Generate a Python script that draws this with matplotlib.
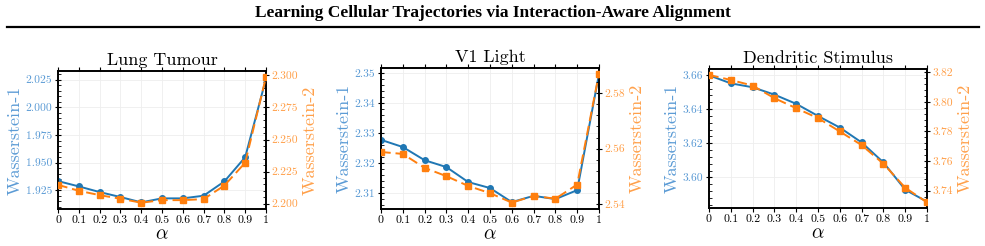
import matplotlib
matplotlib.use("Agg")
import matplotlib.pyplot as plt
from matplotlib.ticker import AutoMinorLocator, FormatStrFormatter
from matplotlib.lines import Line2D

plt.rcParams["font.family"] = ["cmr10", "DejaVu Serif"]
plt.rcParams["mathtext.fontset"] = "cm"
plt.rcParams["axes.formatter.use_mathtext"] = True

alpha = [0.0, 0.1, 0.2, 0.3, 0.4, 0.5, 0.6, 0.7, 0.8, 0.9, 1.0]
alpha_labels = ["0", "0.1", "0.2", "0.3", "0.4", "0.5", "0.6", "0.7", "0.8", "0.9", "1"]

titles = ["Lung Tumour", "V1 Light", "Dendritic Stimulus"]

lung_w1 = [1.9334, 1.9286, 1.9235, 1.9190, 1.9142, 1.9178, 1.9178, 1.9202, 1.9331, 1.9550, 2.0259]
lung_w2 = [2.2147, 2.2101, 2.2067, 2.2039, 2.2008, 2.2028, 2.2028, 2.2036, 2.2142, 2.2320, 2.2987]
v1_w1 = [2.3277, 2.3253, 2.3209, 2.3186, 2.3136, 2.3116, 2.3069, 2.3090, 2.3079, 2.3109, 2.3497]
v1_w2 = [2.5588, 2.5581, 2.5531, 2.5501, 2.5466, 2.5440, 2.5406, 2.5430, 2.5420, 2.5471, 2.5870]
dend_w1 = [3.6598, 3.6551, 3.6528, 3.6485, 3.6431, 3.6360, 3.6292, 3.6205, 3.6088, 3.5928, 3.5858]
dend_w2 = [3.8182, 3.8148, 3.8110, 3.8025, 3.7957, 3.7890, 3.7800, 3.7708, 3.7582, 3.7420, 3.7321]

w1_ticks = [[1.925, 1.950, 1.975, 2.000, 2.025], [2.31, 2.32, 2.33, 2.34, 2.35], [3.60, 3.62, 3.64, 3.66]]
w2_ticks = [[2.200, 2.225, 2.250, 2.275, 2.300], [2.54, 2.56, 2.58], [3.74, 3.76, 3.78, 3.80, 3.82]]
w1_lims = [(1.9082, 2.0328), (2.3046, 2.3517), (3.5821, 3.6635)]
w2_lims = [(2.1959, 2.3034), (2.5383, 2.5890), (3.7283, 3.8222)]
fmts = ["%.3f", "%.2f", "%.2f"]

W1 = [lung_w1, v1_w1, dend_w1]
W2 = [lung_w2, v1_w2, dend_w2]

BLUE = "#1f77b4"
ORANGE = "#ff7f0e"
BLUE_TXT = "#5b9bd5"
ORANGE_TXT = "#ffa04a"

fig = plt.figure(figsize=(9.85, 2.46), dpi=100)

fig.text(0.5, 0.949, "Learning Cellular Trajectories via Interaction-Aware Alignment",
         ha="center", va="center", fontsize=12.5, fontweight="bold", family="Liberation Serif")
fig.add_artist(Line2D([0.007, 0.994], [0.889, 0.889], color="black", lw=1.6, transform=fig.transFigure))

boxes = [
    [58 / 985, 37 / 246, 208 / 985, 138 / 246],
    [381 / 985, 37 / 246, 218 / 985, 141 / 246],
    [709 / 985, 38 / 246, 218 / 985, 139 / 246],
]

for i in range(3):
    ax = fig.add_axes(boxes[i])
    ax2 = ax.twinx()

    ax.plot(alpha, W1[i], color=BLUE, lw=1.4, marker="o", ms=4, zorder=3)
    ax2.plot(alpha, W2[i], color=ORANGE, lw=1.4, ls="--", dashes=(5, 2.5), marker="s", ms=4.5, zorder=3)

    ax.set_xlim(0, 1)
    ax.set_xticks(alpha)
    ax.set_xticklabels(alpha_labels)
    ax.set_ylim(*w1_lims[i])
    ax.set_yticks(w1_ticks[i])
    ax.yaxis.set_major_formatter(FormatStrFormatter(fmts[i]))
    ax.yaxis.set_minor_locator(AutoMinorLocator(5))
    ax2.set_ylim(*w2_lims[i])
    ax2.set_yticks(w2_ticks[i])
    ax2.yaxis.set_major_formatter(FormatStrFormatter(fmts[i]))
    ax2.yaxis.set_minor_locator(AutoMinorLocator(5))

    ax.grid(True, color="#eeeeee", lw=0.6)
    ax.set_axisbelow(True)

    ax.tick_params(axis="x", which="both", direction="out", length=3, width=0.8, top=True, labelsize=8.5, pad=2)
    ax.tick_params(axis="y", which="major", direction="inout", length=4, width=0.8,
                   labelsize=8.3, labelcolor=BLUE_TXT, pad=2)
    ax.tick_params(axis="y", which="minor", direction="in", length=2, width=0.6)
    ax2.tick_params(axis="y", which="major", direction="inout", length=4, width=0.8,
                    labelsize=8.3, labelcolor=ORANGE_TXT, pad=2)
    ax2.tick_params(axis="y", which="minor", direction="in", length=2, width=0.6)
    for sp in ax2.spines.values():
        sp.set_linewidth(1.2)
    for sp in ax.spines.values():
        sp.set_linewidth(1.2)

    ax.set_xlabel(r"$\alpha$", fontsize=14, labelpad=0)
    ax.set_ylabel("Wasserstein-1", fontsize=13, color=BLUE_TXT, labelpad=2)
    ax2.set_ylabel("Wasserstein-2", fontsize=13, color=ORANGE_TXT, labelpad=3)
    ax.set_title(titles[i], fontsize=13, pad=4)

fig.savefig("out.png", dpi=100)
